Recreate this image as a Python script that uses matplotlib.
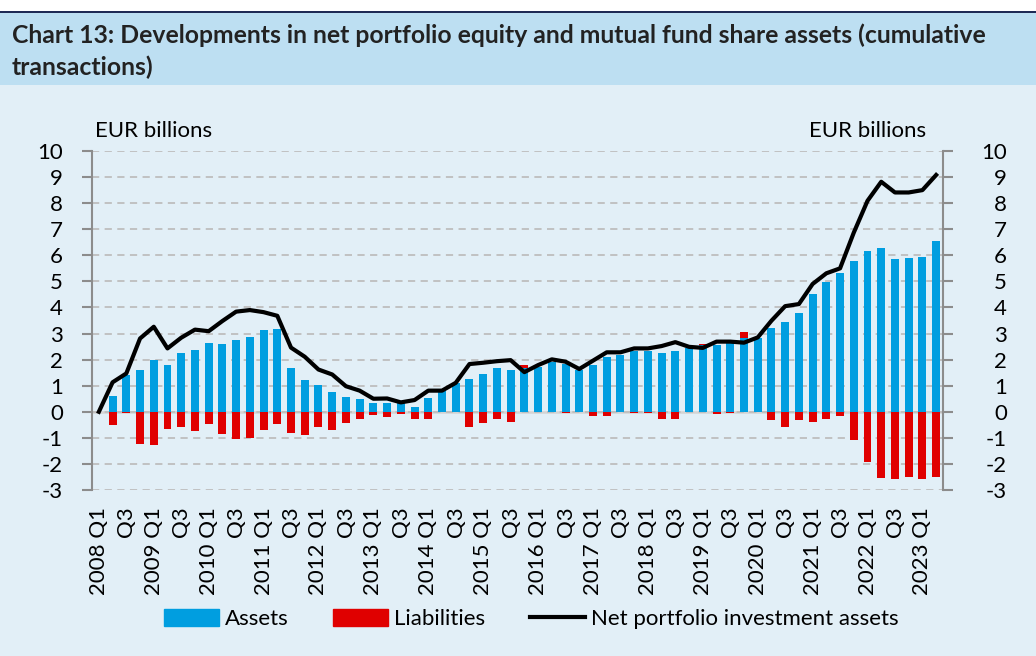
import numpy as np
import matplotlib
matplotlib.use("Agg")
import matplotlib.pyplot as plt
from matplotlib.patches import Rectangle
from matplotlib.lines import Line2D

plt.rcParams['font.family'] = ['Lato', 'DejaVu Sans']
plt.rcParams['axes.unicode_minus'] = False

# quarters 2008 Q1 .. 2023 Q2
years = list(range(2008, 2024))
quarters = [f"{y} Q{q}" for y in years for q in (1, 2, 3, 4)][:62]

assets = [0.00, 0.61, 1.41, 1.59, 1.97, 1.79, 2.24, 2.38, 2.65, 2.60,
          2.77, 2.88, 3.12, 3.18, 1.66, 1.23, 1.02, 0.75, 0.55, 0.50,
          0.33, 0.32, 0.32, 0.18, 0.54, 0.83, 1.11, 1.27, 1.45, 1.69,
          1.61, 1.66, 1.73, 1.92, 1.82, 1.60, 1.79, 2.10, 2.17, 2.34,
          2.34, 2.24, 2.34, 2.43, 2.55, 2.56, 2.62, 2.84, 2.81, 3.20,
          3.43, 3.80, 4.51, 4.99, 5.31, 5.78, 6.15, 6.29, 5.87, 5.90,
          5.93, 6.55]

liabilities = [0.00, -0.51, -0.06, -1.25, -1.29, -0.65, -0.60, -0.74, -0.45, -0.87,
               -1.06, -1.02, -0.68, -0.47, -0.81, -0.90, -0.58, -0.68, -0.42, -0.29,
               -0.14, -0.19, -0.08, -0.29, -0.27, 0.00, 0.00, -0.58, -0.43, -0.26,
               -0.38, 0.13, -0.02, 0.00, -0.06, 0.00, -0.17, -0.17, -0.02, -0.05,
               -0.05, -0.26, -0.29, 0.00, 0.05, -0.10, -0.05, 0.20, 0.00, -0.32,
               -0.60, -0.32, -0.38, -0.29, -0.17, -1.07, -1.93, -2.53, -2.56, -2.52,
               -2.57, -2.49]

net_assets = [0.00, 1.13, 1.47, 2.81, 3.26, 2.43, 2.84, 3.15, 3.09, 3.48,
              3.84, 3.90, 3.82, 3.68, 2.46, 2.11, 1.62, 1.43, 0.98, 0.81,
              0.50, 0.51, 0.36, 0.45, 0.81, 0.81, 1.11, 1.83, 1.88, 1.94,
              1.98, 1.52, 1.79, 2.01, 1.92, 1.64, 1.96, 2.28, 2.28, 2.43,
              2.43, 2.52, 2.67, 2.49, 2.45, 2.69, 2.69, 2.65, 2.85, 3.49,
              4.05, 4.13, 4.90, 5.31, 5.50, 6.87, 8.09, 8.82, 8.41, 8.41,
              8.50, 9.08]

BLUE = '#009EE0'
RED = '#E00000'
BODY = '#E2EFF7'
BAND = '#BDDFF2'
AXIS_GREY = '#8C8C8C'
FS = 16

fig = plt.figure(figsize=(10.36, 6.56), dpi=100, facecolor='white')

# background panels
fig.patches.append(Rectangle((0, 0), 1, 1 - 85 / 656, transform=fig.transFigure,
                             facecolor=BODY, edgecolor='none', zorder=-3))
fig.patches.append(Rectangle((0, 1 - 85 / 656), 1, 73 / 656, transform=fig.transFigure,
                             facecolor=BAND, edgecolor='none', zorder=-3))
fig.patches.append(Rectangle((0, 1 - 13 / 656), 1, 2.5 / 656, transform=fig.transFigure,
                             facecolor='#1F2A55', edgecolor='none', zorder=-2))

fig.text(12 / 1036, 1 - 35 / 656, "Chart 13: Developments in net portfolio equity and mutual fund share assets (cumulative",
         fontsize=17.8, fontweight='bold', color='#222222', va='center', ha='left')
fig.text(12 / 1036, 1 - 67 / 656, "transactions)",
         fontsize=17.8, fontweight='bold', color='#222222', va='center', ha='left')

ax = fig.add_axes([92 / 1036, 1 - 490 / 656, (943 - 92) / 1036, (490 - 151) / 656])
ax.set_facecolor('none')

x = np.arange(len(quarters))
a = np.array(assets)
l = np.array(liabilities)
bottom_l = np.where((l > 0) & (a > 0), a, 0)

ax.bar(x, a, width=0.58, color=BLUE, zorder=3, label='Assets')
ax.bar(x, l, width=0.58, bottom=bottom_l, color=RED, zorder=3, label='Liabilities')
ax.plot(x, net_assets, color='black', lw=3.0, zorder=4,
        label='Net portfolio investment assets')

ax.set_xlim(-0.5, len(quarters) - 0.5)
ax.set_ylim(-3, 10)
ax.set_yticks(range(-3, 11))
ax.yaxis.grid(True, color='#BEBEBE', linestyle=(0, (4, 3)), lw=1.3, zorder=0)
ax.axhline(0, color='#D4D4D4', lw=1.8, zorder=1)

for side in ['top', 'bottom', 'right']:
    ax.spines[side].set_visible(False)
ax.spines['left'].set_color(AXIS_GREY)
ax.spines['left'].set_linewidth(1.5)
ax.tick_params(axis='y', direction='out', length=7, width=1.5, color=AXIS_GREY,
               labelsize=FS, pad=14, labelcolor='black')

# category labels every other quarter
labels = []
for q in quarters:
    if q.endswith('Q1'):
        labels.append(q)
    elif q.endswith('Q3'):
        labels.append('Q3')
    else:
        labels.append('')
ax.set_xticks(x[::2])
ax.set_xticklabels(labels[::2], rotation=90, fontsize=FS, va='top', ha='center')
ax.tick_params(axis='x', length=0, pad=12)

# right axis
ax2 = ax.twinx()
ax2.set_ylim(-3, 10)
ax2.set_yticks(range(-3, 11))
for side in ['top', 'bottom', 'left']:
    ax2.spines[side].set_visible(False)
ax2.spines['right'].set_color(AXIS_GREY)
ax2.spines['right'].set_linewidth(1.5)
ax2.tick_params(axis='y', direction='out', length=7, width=1.5, color=AXIS_GREY,
                labelsize=FS, pad=39)
for t in ax2.get_yticklabels():
    t.set_ha('right')

fig.text(95 / 1036, 1 - 131 / 656, "EUR billions", fontsize=FS, ha='left', va='center')
fig.text(926 / 1036, 1 - 131 / 656, "EUR billions", fontsize=FS, ha='right', va='center')

handles = [Rectangle((0, 0), 1, 1, color=BLUE), Rectangle((0, 0), 1, 1, color=RED),
           Line2D([0], [0], color='black', lw=3.0)]
fig.legend(handles, ['Assets', 'Liabilities', 'Net portfolio investment assets'],
           loc='center', bbox_to_anchor=(531 / 1036, 1 - 619 / 656), ncol=3, frameon=False,
           fontsize=FS, handlelength=2.5, handleheight=0.8, columnspacing=2.0, handletextpad=0.25)

fig.savefig('out.png', dpi=100, facecolor=fig.get_facecolor())
